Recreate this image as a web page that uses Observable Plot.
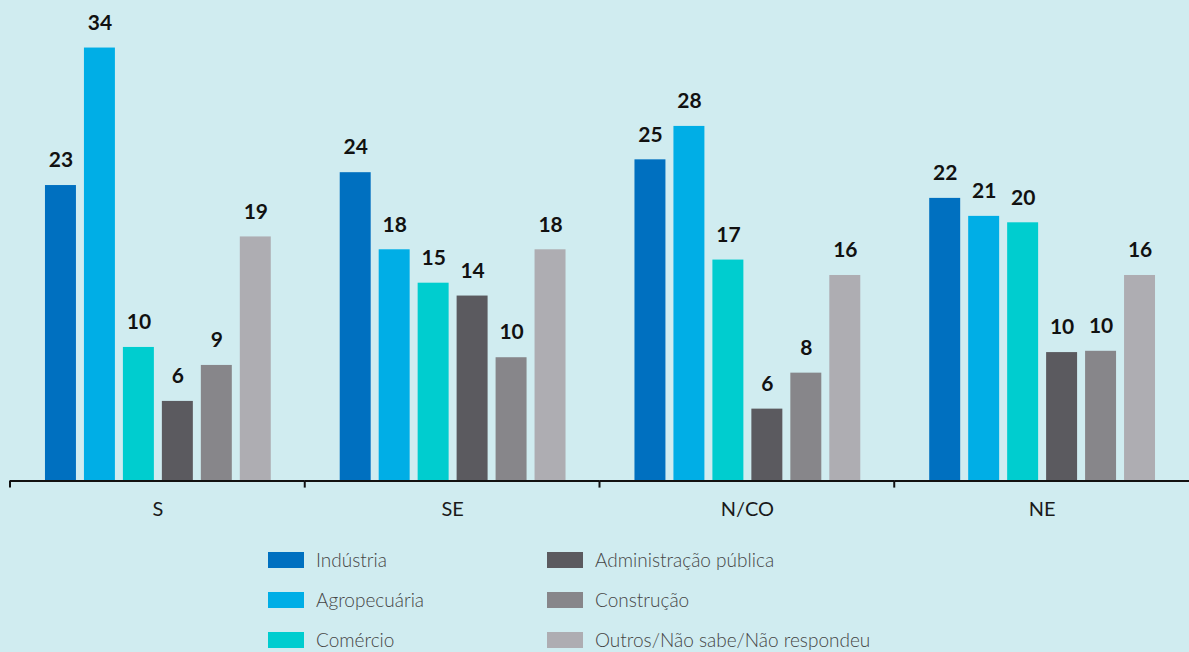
<!DOCTYPE html>
<html><head><meta charset="utf-8">
<script src="https://cdn.jsdelivr.net/npm/d3@7"></script>
<script src="https://cdn.jsdelivr.net/npm/@observablehq/plot@0.6"></script>
<style>
html,body{margin:0;padding:0;background:#d0ecf0;overflow:hidden;width:1189px;height:652px;}
#chart svg{display:block}
.legend{display:grid;grid-template-columns:279px auto;grid-template-rows:repeat(3,40px);grid-auto-flow:column;margin-left:268px;padding-top:10px;font-family:Lato,sans-serif;font-weight:300;font-size:19px;color:#454545}
.item{display:flex;align-items:center;height:40px;white-space:nowrap}
.sw{width:36px;height:16px;margin-right:12px;flex:none}
</style></head><body>
<div id="chart"></div><div class="legend" id="legend"></div>
<script>
const regions = ["S", "SE", "N/CO", "NE"];
const sectors = ["Indústria", "Agropecuária", "Comércio", "Administração pública", "Construção", "Outros/Não sabe/Não respondeu"];
const colors = ["#0070c0", "#00aee6", "#00cdcf", "#5b5a5f", "#87868a", "#aeadb2"];
const valuesS   = [23.0, 33.7, 10.4, 6.2, 9.0, 19.0];
const valuesSE  = [24.0, 18.0, 15.4, 14.4, 9.6, 18.0];
const valuesNCO = [25.0, 27.6, 17.2, 5.6, 8.4, 16.0];
const valuesNE  = [22.0, 20.6, 20.1, 10.0, 10.1, 16.0];

const valuesByRegion = [valuesS, valuesSE, valuesNCO, valuesNE];
const data = regions.flatMap((r, i) => sectors.map((s, j) => ({region: r, sector: s, value: valuesByRegion[i][j]})));

function boundaryTicks(index, scales, values, dimensions) {
  const x0 = d3.min(scales.x.range());
  const y0 = scales.y(0);
  return d3.create("svg:line")
    .attr("x1", x0).attr("x2", x0)
    .attr("y1", y0).attr("y2", y0 + 7)
    .attr("stroke", "#111").attr("stroke-width", 2)
    .node();
}

const chart = Plot.plot({
  width: 1190,
  height: 530,
  marginLeft: 10,
  marginRight: 0,
  marginTop: 18,
  marginBottom: 49,
  style: {fontFamily: "Lato, sans-serif", background: "transparent", color: "#1a1a1a"},
  fx: {domain: regions, padding: 0, label: null},
  x: {domain: sectors, paddingInner: 0.21, paddingOuter: 0.85, axis: null},
  y: {domain: [0, 36], axis: null},
  color: {domain: sectors, range: colors, legend: false},
  marks: [
    Plot.barY(data, {fx: "region", x: "sector", y: "value", fill: "sector"}),
    Plot.text(data, {fx: "region", x: "sector", y: "value", text: d => String(Math.round(d.value)), dy: -25, fontSize: 21, fontWeight: 700, fill: "#111"}),
    Plot.ruleY([0], {stroke: "#111", strokeWidth: 2}),
    boundaryTicks,
    Plot.axisFx({anchor: "bottom", tickSize: 0, tickPadding: 21, fontSize: 20, label: null})
  ]
});
document.getElementById("chart").append(chart);

const legend = document.getElementById("legend");
sectors.forEach((s, i) => {
  const item = document.createElement("div");
  item.className = "item";
  const sw = document.createElement("span");
  sw.className = "sw";
  sw.style.background = colors[i];
  const t = document.createElement("span");
  t.textContent = s;
  item.append(sw, t);
  legend.append(item);
});
</script>
</body></html>
